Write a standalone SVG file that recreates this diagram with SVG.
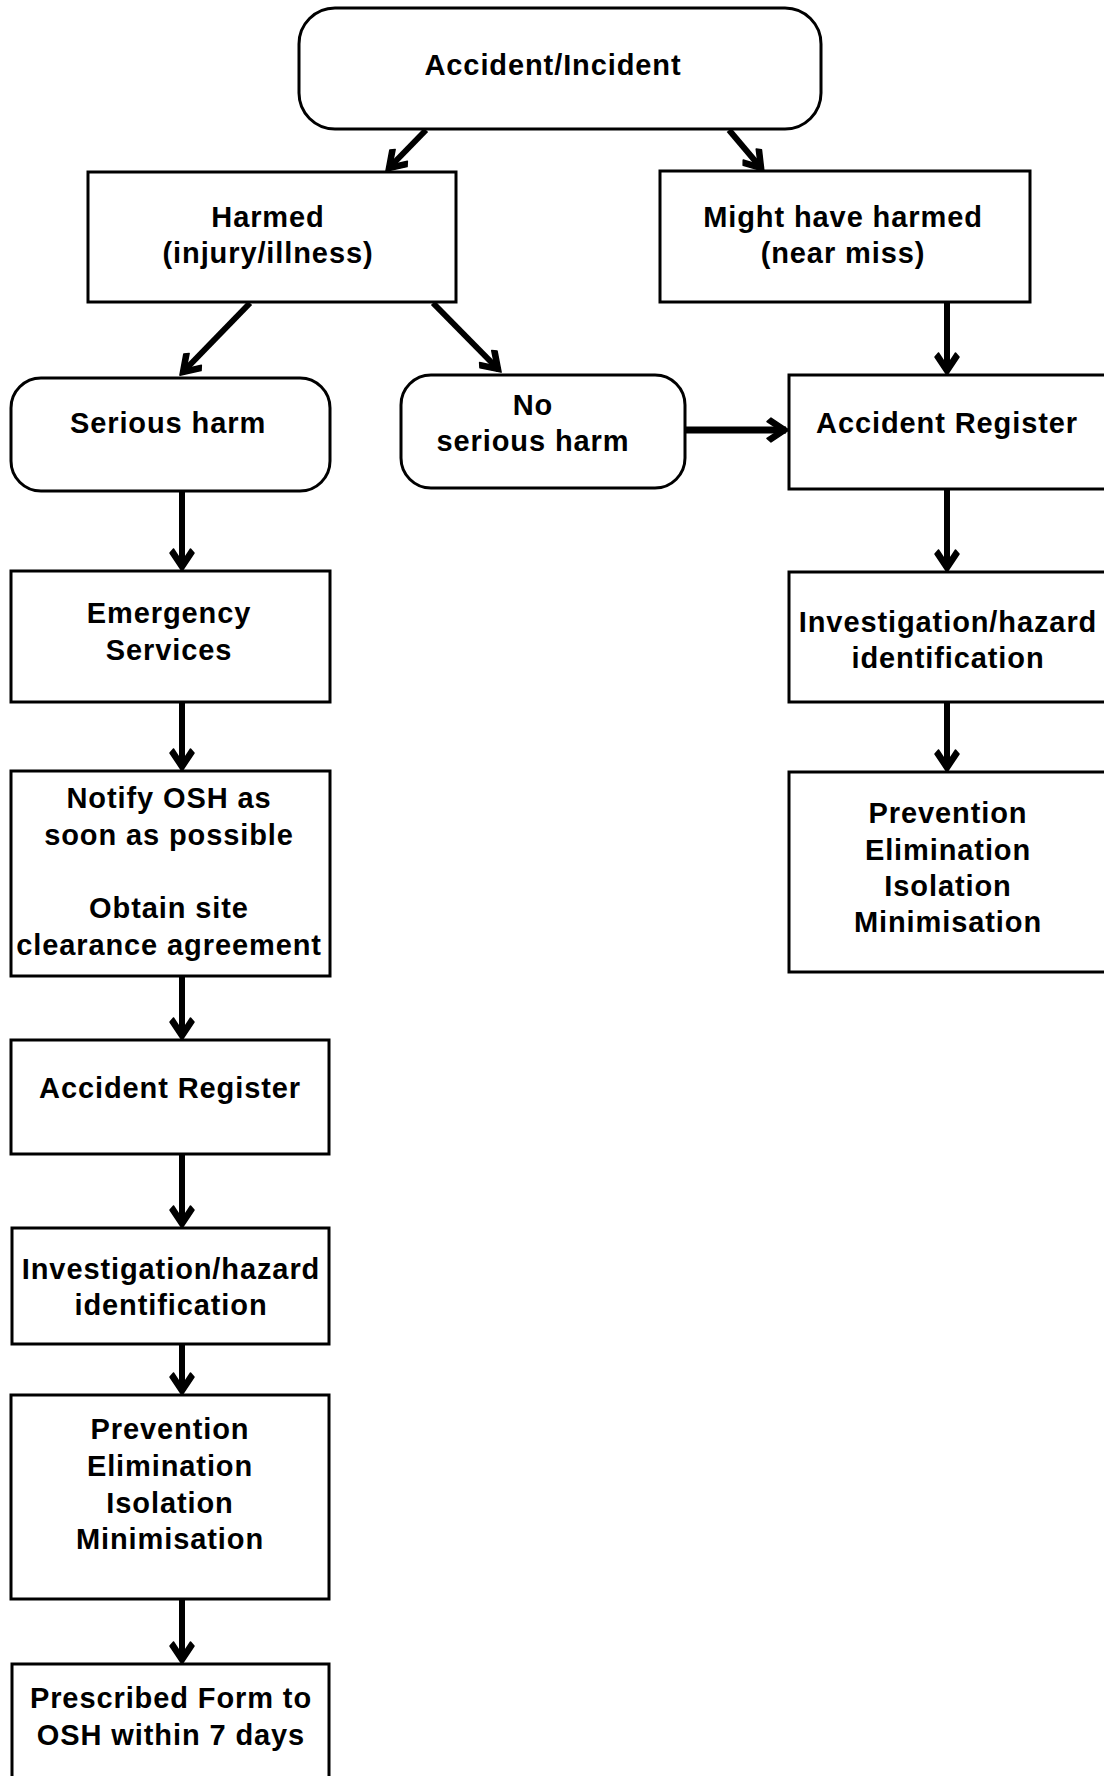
<svg xmlns="http://www.w3.org/2000/svg" width="1104" height="1776" viewBox="0 0 1104 1776">
<style>
.box{fill:#fff;stroke:#000;stroke-width:3}
.t{font-family:"Liberation Sans",Arial,sans-serif;font-weight:bold;font-size:29px;letter-spacing:0.9px;text-anchor:middle;fill:#000}
.c{stroke:#000;stroke-width:6;fill:none;marker-end:url(#ah)}
</style>
<defs>
<marker id="ah" markerUnits="userSpaceOnUse" viewBox="-26 -14 28 28" markerWidth="28" markerHeight="28" refX="-3" refY="0" orient="auto">
<path d="M0,0 L-18,-12 L-22,-8.5 L-9,0 L-22,8.5 L-18,12 Z" fill="#000" stroke="#000" stroke-width="1.5" stroke-linejoin="round"/>
</marker>
</defs>
<rect width="1104" height="1776" fill="#fff"/>
<g id="connectors">
<line class="c" x1="426" y1="130" x2="388" y2="169"/>
<line class="c" x1="729" y1="130" x2="762" y2="169"/>
<line class="c" x1="250" y1="303" x2="182" y2="373"/>
<line class="c" x1="433" y1="303" x2="499" y2="370"/>
<line class="c" x1="947" y1="302" x2="947" y2="372"/>
<line class="c" x1="685" y1="430" x2="786" y2="430" style="stroke-width:7"/>
<line class="c" x1="182" y1="491" x2="182" y2="568"/>
<line class="c" x1="182" y1="702" x2="182" y2="768"/>
<line class="c" x1="182" y1="976" x2="182" y2="1037"/>
<line class="c" x1="182" y1="1154" x2="182" y2="1225"/>
<line class="c" x1="182" y1="1344" x2="182" y2="1392"/>
<line class="c" x1="182" y1="1599" x2="182" y2="1661"/>
<line class="c" x1="947" y1="489" x2="947" y2="569"/>
<line class="c" x1="947" y1="702" x2="947" y2="769"/>
</g>
<g id="n-accident">
<rect class="box" x="299" y="8" width="522" height="121" rx="36"/>
<text class="t" x="553" y="75">Accident/Incident</text>
</g>
<g id="n-harmed">
<rect class="box" x="88" y="172" width="368" height="130"/>
<text class="t" x="268" y="227">Harmed</text>
<text class="t" x="268" y="263">(injury/illness)</text>
</g>
<g id="n-might">
<rect class="box" x="660" y="171" width="370" height="131"/>
<text class="t" x="843" y="227">Might have harmed</text>
<text class="t" x="843" y="263">(near miss)</text>
</g>
<g id="n-serious">
<rect class="box" x="11" y="378" width="319" height="113" rx="30"/>
<text class="t" x="168" y="433">Serious harm</text>
</g>
<g id="n-noserious">
<rect class="box" x="401" y="375" width="284" height="113" rx="30"/>
<text class="t" x="533" y="415">No</text>
<text class="t" x="533" y="451">serious harm</text>
</g>
<g id="n-register-r">
<rect class="box" x="789" y="375" width="330" height="114"/>
<text class="t" x="947" y="433">Accident Register</text>
</g>
<g id="n-invest-r">
<rect class="box" x="789" y="572" width="330" height="130"/>
<text class="t" x="948" y="632">Investigation/hazard</text>
<text class="t" x="948" y="668">identification</text>
</g>
<g id="n-prev-r">
<rect class="box" x="789" y="772" width="330" height="200"/>
<text class="t" x="948" y="823">Prevention</text>
<text class="t" x="948" y="860">Elimination</text>
<text class="t" x="948" y="896">Isolation</text>
<text class="t" x="948" y="932">Minimisation</text>
</g>
<g id="n-emergency">
<rect class="box" x="11" y="571" width="319" height="131"/>
<text class="t" x="169" y="623">Emergency</text>
<text class="t" x="169" y="660">Services</text>
</g>
<g id="n-notify">
<rect class="box" x="11" y="771" width="319" height="205"/>
<text class="t" x="169" y="808">Notify OSH as</text>
<text class="t" x="169" y="845">soon as possible</text>
<text class="t" x="169" y="918">Obtain site</text>
<text class="t" x="169" y="955">clearance agreement</text>
</g>
<g id="n-register-l">
<rect class="box" x="11" y="1040" width="318" height="114"/>
<text class="t" x="170" y="1098">Accident Register</text>
</g>
<g id="n-invest-l">
<rect class="box" x="12" y="1228" width="317" height="116"/>
<text class="t" x="171" y="1279">Investigation/hazard</text>
<text class="t" x="171" y="1315">identification</text>
</g>
<g id="n-prev-l">
<rect class="box" x="11" y="1395" width="318" height="204"/>
<text class="t" x="170" y="1439">Prevention</text>
<text class="t" x="170" y="1476">Elimination</text>
<text class="t" x="170" y="1513">Isolation</text>
<text class="t" x="170" y="1549">Minimisation</text>
</g>
<g id="n-prescribed">
<rect class="box" x="12" y="1664" width="317" height="130"/>
<text class="t" x="171" y="1708">Prescribed Form to</text>
<text class="t" x="171" y="1745">OSH within 7 days</text>
</g>
</svg>
